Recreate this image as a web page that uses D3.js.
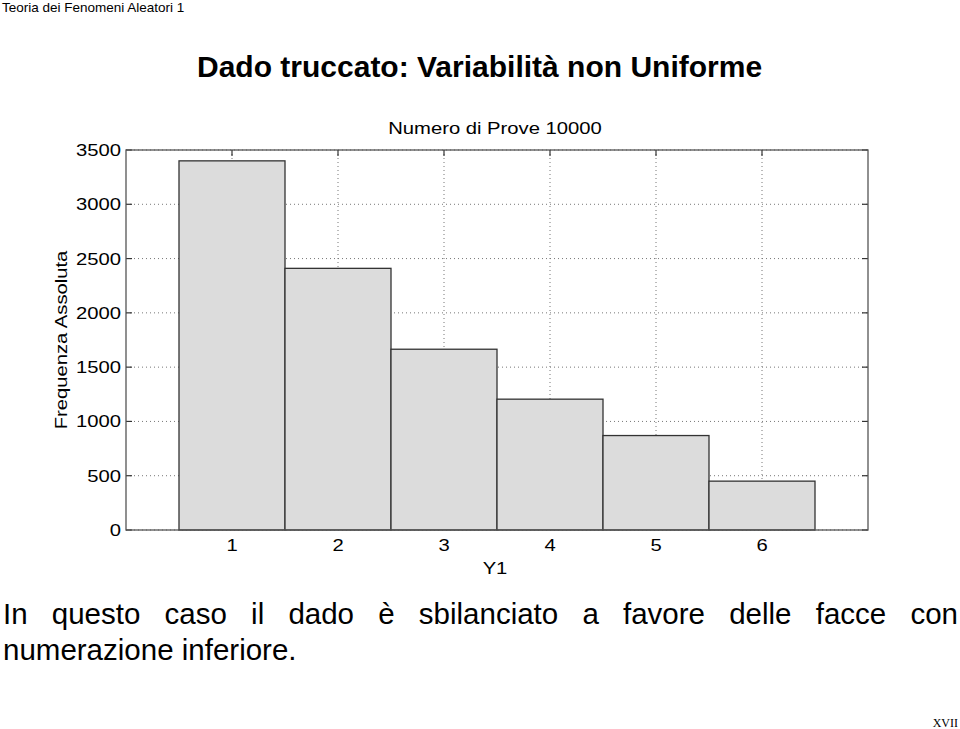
<!DOCTYPE html>
<html>
<head>
<meta charset="utf-8">
<script src="https://cdn.jsdelivr.net/npm/d3@7"></script>
<style>
  body { margin: 0; background: #fff; }
  svg { display: block; }
</style>
</head>
<body>
<svg id="slide" width="960" height="729"></svg>
<script>
// data
const faces = [1, 2, 3, 4, 5, 6]
const counts = [3400, 2410, 1665, 1205, 870, 450]
const yTicks = [0, 500, 1000, 1500, 2000, 2500, 3000, 3500]
const xTicks = [1, 2, 3, 4, 5, 6]

const svg = d3.select('#slide')
const margin = { left: 126, right: 868, top: 150, bottom: 530 }

const x = d3.scaleLinear().domain([0, 7]).range([margin.left, margin.right])
const y = d3.scaleLinear().domain([0, 3500]).range([margin.bottom, margin.top])

const sans = '"Liberation Sans", Arial, Helvetica, sans-serif'
const stretch = 1.19 // matlab text is wider than Arial

// slide texts
svg.append('text')
  .attr('x', 2).attr('y', 12)
  .style('font', '13.5px ' + sans)
  .text('Teoria dei Fenomeni Aleatori 1')

svg.append('text')
  .attr('x', 197).attr('y', 77)
  .style('font', 'bold 30px ' + sans)
  .text('Dado truccato: Variabilità non Uniforme')

// justified first line: spread words between x=3 and x=958
const bodyFont = '29.5px ' + sans
const line1 = 'In questo caso il dado è sbilanciato a favore delle facce con'.split(' ')
const lineG = svg.append('g')
const wordEls = lineG.selectAll('text')
  .data(line1)
  .enter()
  .append('text')
  .attr('y', 624)
  .style('font', bodyFont)
  .text(d => d)
const widths = []
wordEls.each(function () { widths.push(this.getComputedTextLength()) })
const gap = (955 - d3.sum(widths)) / (line1.length - 1)
let cx = 3
wordEls.each(function (d, i) {
  d3.select(this).attr('x', cx)
  cx += widths[i] + gap
})

svg.append('text')
  .attr('x', 3).attr('y', 660)
  .style('font', bodyFont)
  .text('numerazione inferiore.')

svg.append('text')
  .attr('x', 958).attr('y', 727)
  .attr('text-anchor', 'end')
  .style('font', '12px "Liberation Serif", "Times New Roman", serif')
  .text('XVII')

// chart
const chart = svg.append('g').attr('class', 'chart')
const gridColor = '#777'

// grid (dotted, under bars)
const grid = chart.append('g').attr('class', 'grid')
grid.selectAll('.gy')
  .data(yTicks)
  .enter()
  .append('line')
  .attr('x1', margin.left).attr('x2', margin.right)
  .attr('y1', d => y(d)).attr('y2', d => y(d))
  .attr('stroke', gridColor)
  .attr('stroke-width', 1)
  .attr('stroke-dasharray', '1 3')
grid.selectAll('.gx')
  .data(xTicks)
  .enter()
  .append('line')
  .attr('x1', d => x(d)).attr('x2', d => x(d))
  .attr('y1', margin.top).attr('y2', margin.bottom)
  .attr('stroke', gridColor)
  .attr('stroke-width', 1)
  .attr('stroke-dasharray', '1 3')

// ticks inward
const tickLen = 6
const ticks = chart.append('g').attr('class', 'ticks').attr('stroke', '#333').attr('stroke-width', 1.2)
yTicks.forEach(function (d) {
  ticks.append('line').attr('x1', margin.left).attr('x2', margin.left + tickLen).attr('y1', y(d)).attr('y2', y(d))
  ticks.append('line').attr('x1', margin.right).attr('x2', margin.right - tickLen).attr('y1', y(d)).attr('y2', y(d))
})
xTicks.forEach(function (d) {
  ticks.append('line').attr('x1', x(d)).attr('x2', x(d)).attr('y1', margin.top).attr('y2', margin.top + tickLen)
  ticks.append('line').attr('x1', x(d)).attr('x2', x(d)).attr('y1', margin.bottom).attr('y2', margin.bottom - tickLen)
})

// bars
chart.append('g').attr('class', 'bars')
  .selectAll('rect')
  .data(faces)
  .enter()
  .append('rect')
  .attr('x', (d) => x(d - 0.5))
  .attr('y', (d, i) => y(counts[i]))
  .attr('width', (d) => x(d + 0.5) - x(d - 0.5))
  .attr('height', (d, i) => y(0) - y(counts[i]))
  .attr('fill', '#dcdcdc')
  .attr('stroke', '#333')
  .attr('stroke-width', 1.3)

// axis box
chart.append('rect')
  .attr('x', margin.left).attr('y', margin.top)
  .attr('width', margin.right - margin.left)
  .attr('height', margin.bottom - margin.top)
  .attr('fill', 'none')
  .attr('stroke', '#555')
  .attr('stroke-width', 1.3)

// stretched label helper
function label(px, py, str, anchor, rot) {
  const t = chart.append('text')
    .attr('transform', 'translate(' + px + ',' + py + ')' + (rot ? ' rotate(' + rot + ')' : '') + ' scale(' + stretch + ',1)')
    .attr('text-anchor', anchor)
    .style('font', '17px ' + sans)
    .text(str)
  return t
}

// tick labels
yTicks.forEach(d => label(margin.left - 5, y(d) + 6, d, 'end'))
xTicks.forEach(d => label(x(d), 551, d, 'middle'))

// titles
label(495, 134, 'Numero di Prove 10000', 'middle')
label(495, 574, 'Y1', 'middle')
label(67, 340, 'Frequenza Assoluta', 'middle', -90)
</script>
</body>
</html>
